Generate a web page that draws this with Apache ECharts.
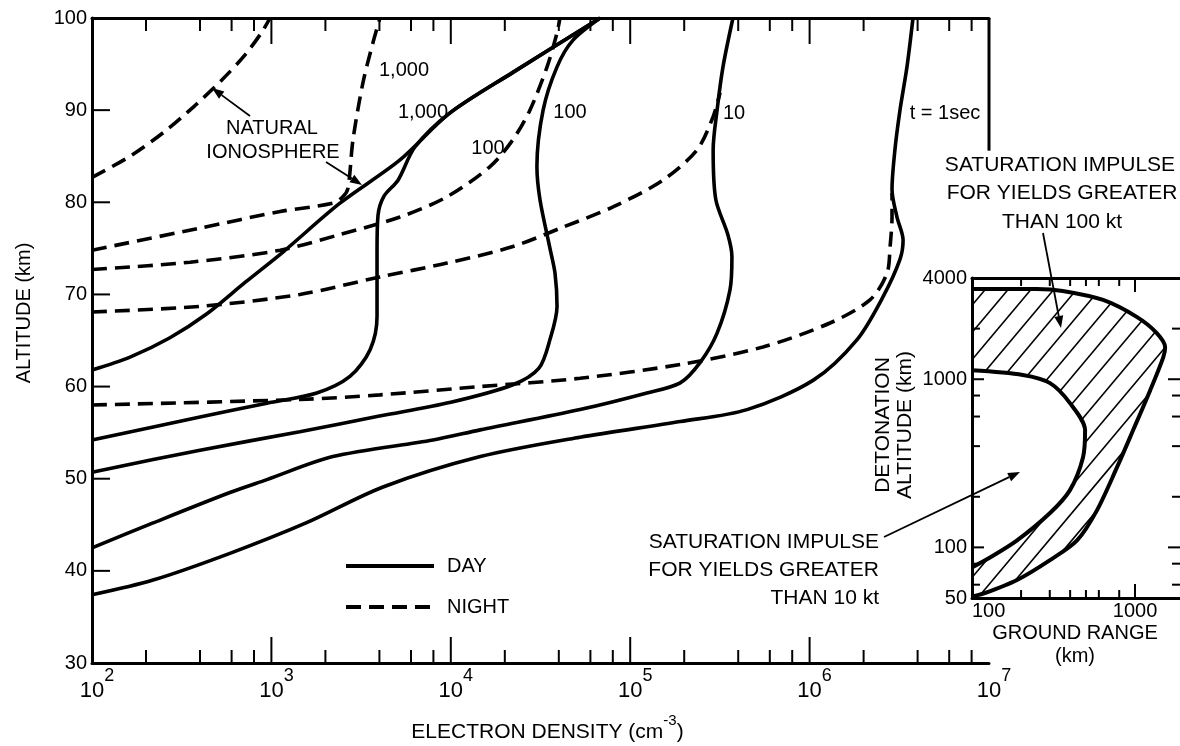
<!DOCTYPE html>
<html><head><meta charset="utf-8">
<script src="https://cdn.jsdelivr.net/npm/echarts@6/dist/echarts.min.js"></script>
<style>html,body{margin:0;padding:0;background:#fff}#c{width:1180px;height:746px}</style>
</head><body><div id="c"></div>
<script>
// ---------- tick labels / ticks ----------
const xTickExponents = [2, 3, 4, 5, 6, 7];
const yTickValues = [30, 40, 50, 60, 70, 80, 90, 100];
const xMajorTicks = [1e3, 1e4, 1e5, 1e6];
const xMinorTicks = [200, 400, 600, 800, 2e3, 4e3, 6e3, 8e3, 2e4, 4e4, 6e4, 8e4, 2e5, 4e5, 6e5, 8e5, 2e6, 4e6, 6e6, 8e6];
const yMajorTicks = [40, 50, 60, 70, 80, 90];
const insetXLabels = [100, 1000];
const insetYLabels = [50, 100, 1000, 4000];
const insetXMajorTicks = [1000];
const insetXMinorTicks = [200, 300, 400, 500, 600, 800];
const insetYMajorTicks = [100, 1000];
const insetYMinorTicks = [60, 80, 200, 400, 600, 800, 2000];
const mainFrameRightTop = 85.6;

// ---------- main chart: [electron density cm^-3, altitude km] ----------
const naturalDay = [[100,61.8],[163,63.2],[272,65.3],[437,67.9],[713,71.3],[1160,74.6],[2410,79.9],[5210,84.6],[9900,89.7],[22200,94.1],[68000,100]];
const naturalNight = [[100,82.7],[163,85.0],[255,87.7],[375,90.5],[531,93.3],[713,96.0],[887,98.5],[982,100]];
const day1000 = [[100,54.2],[400,56.7],[944,58.2],[1790,59.3],[2740,61.1],[3550,64.0],[3880,67.6],[3880,74.8],[3930,78.6],[4250,80.7],[5080,82.4],[6310,86.0],[9900,89.7],[22200,94.1],[68000,100]];
const day100 = [[100,50.7],[400,53.1],[1440,55.1],[4000,56.8],[10000,58.3],[22200,60.2],[31000,62.0],[35700,65.1],[39100,68.7],[38100,72.3],[35700,75.0],[31400,80.3],[30200,83.9],[32700,90.0],[39100,94.7],[48000,97.6],[68000,100]];
const day10 = [[100,42.5],[219,45.2],[587,48.5],[944,49.9],[2200,52.4],[7960,54.2],[14600,55.3],[52500,57.5],[124000,59.3],[190000,60.4],[245000,62.6],[305000,65.8],[360000,70.5],[369000,74.1],[350000,76.5],[300000,80.3],[290000,85.7],[305000,90.0],[329000,94.7],[374000,100]];
const day1 = [[100,37.4],[219,39.0],[587,41.9],[1560,45.2],[4190,49.1],[14600,52.4],[52500,54.5],[190000,56.2],[448000,57.5],[1.05e6,60.7],[1.84e6,65.1],[2.56e6,69.7],[3.19e6,73.8],[3.32e6,75.9],[3.07e6,78.4],[2.88e6,81.4],[2.99e6,85.7],[3.19e6,90.0],[3.49e6,94.7],[3.77e6,100]];
const night1000 = [[100,74.8],[400,77.2],[1120,79.0],[2200,79.9],[2500,80.6],[2670,81.5],[2850,86.8],[3240,93.0],[3680,97.3],[4030,100]];
const night100 = [[100,72.7],[352,73.5],[1120,74.8],[2410,76.5],[5210,78.4],[9530,80.6],[16600,83.9],[22200,86.8],[27600,90.0],[34400,94.7],[39100,98.4],[40600,100]];
const night10 = [[100,68.1],[400,68.7],[1440,70.0],[4030,71.9],[9530,73.4],[22200,75.2],[42200,77.3],[80200,79.5],[152000,82.4],[236000,85.7],[290000,89.3],[317000,91.9]];
const night1 = [[100,58.0],[1440,58.6],[4030,59.1],[14600,60.0],[52500,60.9],[190000,62.4],[550000,64.3],[1.30e6,66.9],[2.17e6,69.4],[2.70e6,72.3],[2.81e6,75.2],[2.88e6,78.4],[2.88e6,81.0]];

// ---------- inset: [ground range km, detonation altitude km] ----------
const outer100kt = [[100,3440],[250,3440],[360,3350],[637,2960],[1030,2340],[1360,1880],[1530,1550],[1490,1350],[1240,861],[973,497],[776,300],[584,166],[441,110],[301,84],[189,64],[117,53],[100,51]];
const inner10kt = [[100,1130],[205,1060],[301,948],[399,721],[494,497],[480,344],[399,219],[301,160],[189,110],[129,87],[100,76]];

const FONT = 'Liberation Sans';
const BLACK = '#000';

function curve(name, data, dashed) {
  return {
    type: 'line', name: name, xAxisIndex: 0, yAxisIndex: 0, data: data,
    symbol: 'none', smooth: 0.3, silent: true, z: 3,
    lineStyle: { color: BLACK, width: 3.6, type: dashed ? [15, 8] : 'solid' },
    itemStyle: { color: BLACK }
  };
}

function tickRender(specs) {
  return function (params, api) {
    const children = [];
    specs.forEach(function (s) {
      if (s.seg) {
        const a = api.coord(s.seg[0]), b = api.coord(s.seg[1]);
        children.push({ type: 'line', shape: { x1: a[0], y1: a[1], x2: b[0], y2: b[1] }, style: { stroke: BLACK, lineWidth: 3 } });
        return;
      }
      s.values.forEach(function (v) {
        const p = s.axis === 'x' ? api.coord([v, s.at]) : api.coord([s.at, v]);
        const q = s.axis === 'x' ? [p[0], p[1] + s.dir * s.len] : [p[0] + s.dir * s.len, p[1]];
        children.push({ type: 'line', shape: { x1: p[0], y1: p[1], x2: q[0], y2: q[1] }, style: { stroke: BLACK, lineWidth: 2 } });
      });
    });
    return { type: 'group', children: children };
  };
}

const hatchPolygon = outer100kt.concat(inner10kt.slice().reverse());
function hatchRender(params, api) {
  const poly = hatchPolygon.map(function (p) { return api.coord(p); });
  const th = 50 * Math.PI / 180, step = 17.5;
  const d = [Math.cos(th), -Math.sin(th)], n = [Math.sin(th), Math.cos(th)];
  const proj = poly.map(function (p) { return p[0] * n[0] + p[1] * n[1]; });
  const cmin = Math.min.apply(null, proj), cmax = Math.max.apply(null, proj);
  const children = [];
  for (let c = cmin + step * 0.6; c < cmax; c += step) {
    const us = [];
    for (let i = 0; i < poly.length; i++) {
      const j = (i + 1) % poly.length;
      const fa = proj[i] - c, fb = proj[j] - c;
      if ((fa < 0) !== (fb < 0)) {
        const t = fa / (fa - fb);
        const x = poly[i][0] + t * (poly[j][0] - poly[i][0]);
        const y = poly[i][1] + t * (poly[j][1] - poly[i][1]);
        us.push(x * d[0] + y * d[1]);
      }
    }
    us.sort(function (a, b) { return a - b; });
    for (let k = 0; k + 1 < us.length; k += 2) {
      children.push({ type: 'line', shape: {
        x1: c * n[0] + us[k] * d[0], y1: c * n[1] + us[k] * d[1],
        x2: c * n[0] + us[k + 1] * d[0], y2: c * n[1] + us[k + 1] * d[1] },
        style: { stroke: BLACK, lineWidth: 1.6 } });
    }
  }
  return { type: 'group', children: children };
}

function txt(t, x, y, size, align, rot) {
  return { type: 'text', x: x, y: y, rotation: rot || 0, z: 20,
    style: { text: t, fill: BLACK, fontFamily: FONT, fontSize: size || 20, align: align || 'center', verticalAlign: 'middle',
             textAlign: align || 'center', textVerticalAlign: 'middle' } };
}
function arrow(x1, y1, x2, y2) {
  const ang = Math.atan2(y2 - y1, x2 - x1), L = 12, W = 4.5;
  const bx = x2 - L * Math.cos(ang), by = y2 - L * Math.sin(ang);
  const px = -Math.sin(ang) * W, py = Math.cos(ang) * W;
  return [
    { type: 'line', z: 20, shape: { x1: x1, y1: y1, x2: bx, y2: by }, style: { stroke: BLACK, lineWidth: 1.8 } },
    { type: 'polygon', z: 20, shape: { points: [[x2, y2], [bx + px, by + py], [bx - px, by - py]] }, style: { fill: BLACK } }
  ];
}

const axisLineStyle = { show: true, lineStyle: { color: BLACK, width: 3 } };

const option = {
  animation: false,
  backgroundColor: '#fff',
  textStyle: { fontFamily: FONT, color: BLACK },
  grid: [
    { left: 92, right: 191, top: 18, bottom: 83, containLabel: false, outerBoundsMode: 'none' },
    { left: 972, right: 0, top: 278, bottom: 148, containLabel: false, outerBoundsMode: 'none' }
  ],
  legend: {
    data: ['DAY', 'NIGHT'], orient: 'vertical', left: 339, top: 551,
    itemWidth: 88, itemHeight: 14, itemGap: 21, selectedMode: false,
    itemStyle: { opacity: 0, borderWidth: 0 },
    lineStyle: { width: 4, color: BLACK },
    textStyle: { fontSize: 20, color: BLACK, fontFamily: FONT, padding: [0, 0, 0, 8] }
  },
  xAxis: [
    { type: 'log', gridIndex: 0, position: 'bottom', min: 100, max: 1e7, logBase: 10,
      axisLine: axisLineStyle, axisTick: { show: false }, splitLine: { show: false }, minorTick: { show: false },
      axisLabel: {
        show: true, showMinLabel: true, showMaxLabel: true, margin: 4, padding: [0, 0, 0, 10],
        formatter: function (v) {
          const e = Math.round(Math.log10(v));
          return xTickExponents.indexOf(e) >= 0 ? '{b|10}{s|' + e + '}' : '';
        },
        rich: {
          b: { fontSize: 22, fontFamily: FONT, color: BLACK, verticalAlign: 'bottom', lineHeight: 35 },
          s: { fontSize: 18, fontFamily: FONT, color: BLACK, verticalAlign: 'top', lineHeight: 18 }
        }
      },
      name: '{n|ELECTRON DENSITY (cm}{s|-3}{n|)}', nameLocation: 'middle', nameGap: 50,
      nameTextStyle: { padding: [0, 0, 0, 14], rich: {
        n: { fontSize: 21, fontFamily: FONT, color: BLACK, verticalAlign: 'bottom', lineHeight: 30 },
        s: { fontSize: 15, fontFamily: FONT, color: BLACK, verticalAlign: 'top', lineHeight: 14 } } }
    },
    { type: 'log', gridIndex: 0, position: 'top', min: 100, max: 1e7, logBase: 10,
      axisLine: axisLineStyle, axisTick: { show: false }, axisLabel: { show: false }, splitLine: { show: false } },
    { type: 'log', gridIndex: 1, position: 'bottom', min: 100, max: 1888, logBase: 10,
      axisLine: axisLineStyle, axisTick: { show: false }, splitLine: { show: false },
      axisLabel: { show: true, showMinLabel: true, showMaxLabel: true, margin: 3, fontSize: 20, color: BLACK, fontFamily: FONT,
        alignMinLabel: 'left',
        formatter: function (v) { const r = Math.round(v); return insetXLabels.indexOf(r) >= 0 ? String(r) : ''; } } },
    { type: 'log', gridIndex: 1, position: 'top', min: 100, max: 1888, logBase: 10,
      axisLine: axisLineStyle, axisTick: { show: false }, axisLabel: { show: false }, splitLine: { show: false } }
  ],
  yAxis: [
    { type: 'value', gridIndex: 0, min: 30, max: 100, interval: 10,
      axisLine: axisLineStyle, axisTick: { show: false }, splitLine: { show: false },
      axisLabel: { margin: 5, fontSize: 20, color: BLACK, fontFamily: FONT,
        formatter: function (v) { return yTickValues.indexOf(v) >= 0 ? String(v) : ''; } } },
    { type: 'log', gridIndex: 1, min: 50, max: 4000, logBase: 10,
      axisLine: axisLineStyle, axisTick: { show: false }, splitLine: { show: false },
      axisLabel: { margin: 5, fontSize: 20, color: BLACK, fontFamily: FONT, showMinLabel: true, showMaxLabel: true,
        formatter: function (v) { const r = Math.round(v); return insetYLabels.indexOf(r) >= 0 ? String(r) : ''; } } }
  ],
  series: [
    curve('DAY', naturalDay, false),
    curve('NIGHT', naturalNight, true),
    curve('DAY', day1000, false),
    curve('DAY', day100, false),
    curve('DAY', day10, false),
    curve('DAY', day1, false),
    curve('NIGHT', night1000, true),
    curve('NIGHT', night100, true),
    curve('NIGHT', night10, true),
    curve('NIGHT', night1, true),
    { type: 'custom', name: 'mainTicks', xAxisIndex: 0, yAxisIndex: 0, data: [[1000, 50]], silent: true, clip: false, z: 5,
      renderItem: tickRender([
        { axis: 'x', values: xMajorTicks, at: 30, dir: -1, len: 26 },
        { axis: 'x', values: xMinorTicks, at: 30, dir: -1, len: 13 },
        { axis: 'x', values: xMajorTicks, at: 100, dir: 1, len: 26 },
        { axis: 'x', values: xMinorTicks, at: 100, dir: 1, len: 13 },
        { axis: 'y', values: yMajorTicks, at: 100, dir: 1, len: 18 },
        { seg: [[1e7, 100], [1e7, mainFrameRightTop]] }
      ]) },
    { type: 'custom', name: 'hatch', xAxisIndex: 2, yAxisIndex: 1, data: [[200, 1000]], silent: true, clip: false, z: 2,
      renderItem: hatchRender },
    { type: 'line', name: '100 kt', xAxisIndex: 2, yAxisIndex: 1, data: outer100kt, symbol: 'none', smooth: 0.3, silent: true, z: 3,
      lineStyle: { color: BLACK, width: 4 } },
    { type: 'line', name: '10 kt', xAxisIndex: 2, yAxisIndex: 1, data: inner10kt, symbol: 'none', smooth: 0.3, silent: true, z: 3,
      lineStyle: { color: BLACK, width: 4 } },
    { type: 'custom', name: 'insetTicks', xAxisIndex: 2, yAxisIndex: 1, data: [[200, 1000]], silent: true, clip: false, z: 5,
      renderItem: tickRender([
        { axis: 'x', values: insetXMajorTicks, at: 50, dir: -1, len: 14 },
        { axis: 'x', values: insetXMinorTicks, at: 50, dir: -1, len: 8 },
        { axis: 'x', values: insetXMajorTicks, at: 4000, dir: 1, len: 14 },
        { axis: 'x', values: insetXMinorTicks, at: 4000, dir: 1, len: 8 },
        { axis: 'y', values: insetYMajorTicks, at: 100, dir: 1, len: 12 },
        { axis: 'y', values: insetYMinorTicks, at: 100, dir: 1, len: 8 },
        { axis: 'y', values: insetYMajorTicks, at: 1888, dir: -1, len: 12 },
        { axis: 'y', values: insetYMinorTicks, at: 1888, dir: -1, len: 8 }
      ]) }
  ],
  graphic: [].concat(
    [
      txt('ALTITUDE (km)', 24, 313, 20, 'center', Math.PI / 2),
      txt('1,000', 404, 70, 20), txt('1,000', 423, 112, 20), txt('100', 488, 148, 20),
      txt('100', 570, 112, 20), txt('10', 734, 113, 20), txt('t = 1sec', 945, 113, 20),
      txt('NATURAL', 272, 128, 20), txt('IONOSPHERE', 273, 152, 20),
      txt('SATURATION IMPULSE', 1060, 165, 21), txt('FOR YIELDS GREATER', 1062, 193, 21), txt('THAN 100 kt', 1062, 222, 21),
      txt('SATURATION IMPULSE', 879, 542, 21, 'right'), txt('FOR YIELDS GREATER', 879, 570, 21, 'right'), txt('THAN 10 kt', 879, 598, 21, 'right'),
      txt('DETONATION', 883, 425, 21, 'center', Math.PI / 2), txt('ALTITUDE (km)', 905, 425, 21, 'center', Math.PI / 2),
      txt('GROUND RANGE', 1075, 633, 20), txt('(km)', 1075, 656, 20)
    ],
    arrow(250, 116, 212, 88), arrow(326, 162, 362, 185),
    arrow(1043, 233, 1061, 328), arrow(884, 537, 1020, 472)
  )
};

const chart = echarts.init(document.getElementById('c'));
chart.setOption(option);
</script>
</body></html>
